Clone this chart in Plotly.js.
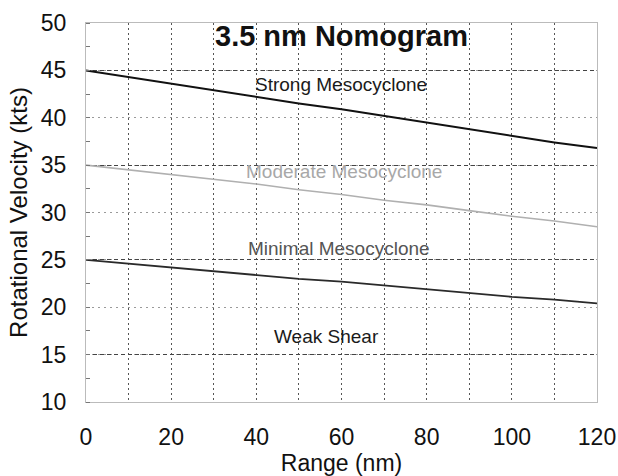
<!DOCTYPE html>
<html><head><meta charset="utf-8">
<script src="https://cdn.plot.ly/plotly-3.0.1.min.js"></script>
<style>html,body{margin:0;padding:0;background:#fff;}#chart{width:618px;height:476px;}</style>
</head><body><div id="chart"></div>
<script>
const rangeNm = [0, 10, 20, 30, 40, 50, 60, 70, 80, 90, 100, 110, 120];
const strong = [45, 44.3, 43.6, 42.9, 42.2, 41.5, 40.9, 40.2, 39.5, 38.8, 38.1, 37.4, 36.8];
const moderate = [35, 34.5, 34.0, 33.5, 33.0, 32.4, 31.9, 31.3, 30.8, 30.2, 29.6, 29.1, 28.5];
const minimal = [25, 24.6, 24.2, 23.8, 23.4, 23.0, 22.7, 22.3, 21.9, 21.5, 21.1, 20.8, 20.4];
const zoneLabels = ["Strong Mesocyclone", "Moderate Mesocyclone", "Minimal Mesocyclone", "Weak Shear"];
const zoneLabelX = [59.8, 60.5, 59.5, 56.5];
const zoneLabelY = [43.55, 34.3, 26.25, 16.9];
const zoneLabelColors = ["#1a1a1a", "#a8a8a8", "#555555", "#1a1a1a"];
const chartTitle = "3.5 nm Nomogram";
const xTicks = [0, 20, 40, 60, 80, 100, 120];
const yTicks = [10, 15, 20, 25, 30, 35, 40, 45, 50];
const yDarkGrid = [15, 25, 35, 45];

const font = "Liberation Sans, Arial, sans-serif";
const traces = [
  {x: rangeNm, y: strong, mode: 'lines', line: {color: '#111111', width: 2}},
  {x: rangeNm, y: moderate, mode: 'lines', line: {color: '#b0b0b0', width: 1.6}},
  {x: rangeNm, y: minimal, mode: 'lines', line: {color: '#2a2a2a', width: 1.8}},
  {x: [], y: [], yaxis: 'y2', mode: 'lines'}
];
const annotations = zoneLabels.map((t, i) => ({
  x: zoneLabelX[i], y: zoneLabelY[i], xref: 'x', yref: 'y', text: t, showarrow: false,
  font: {family: font, size: 19, color: zoneLabelColors[i]}
}));
annotations.push({x: 60, y: 50, xref: 'x', yref: 'y', xanchor: 'center', yanchor: 'top', yshift: 5,
  text: '<b>' + chartTitle + '</b>', showarrow: false,
  font: {family: font, size: 29, color: '#111111'}});
const layout = {
  width: 618, height: 476,
  margin: {l: 86, r: 21, t: 23, b: 74},
  paper_bgcolor: '#ffffff', plot_bgcolor: '#ffffff',
  showlegend: false,
  font: {family: font, color: '#111111'},
  xaxis: {range: [0, 120], tickvals: xTicks, ticktext: xTicks.map(String),
    showgrid: true, gridcolor: '#555555', griddash: '2px,3px', gridwidth: 1,
    minor: {dtick: 10, showgrid: true, gridcolor: '#555555', griddash: '2px,3px', gridwidth: 1},
    zeroline: false, showline: true, linecolor: '#bbbbbb', mirror: true,
    ticks: '', ticklabelstandoff: 14, ticklabeloverflow: 'allow',
    tickfont: {size: 23, family: font, color: '#111'},
    title: {text: 'Range (nm)', font: {size: 23, family: font, color: '#111'}, standoff: 2}},
  yaxis: {range: [10, 50], tickvals: yTicks, ticktext: yTicks.map(String),
    showgrid: true, gridcolor: '#9a9a9a', griddash: '2px,4px', gridwidth: 1,
    zeroline: false, showline: true, linecolor: '#bbbbbb', mirror: true,
    ticks: '', ticklabelstandoff: 14, ticklabeloverflow: 'allow',
    tickfont: {size: 23, family: font, color: '#111'},
    title: {text: 'Rotational Velocity (kts)', font: {size: 24, family: font, color: '#111'}, standoff: 6}},
  yaxis2: {range: [10, 50], overlaying: 'y', side: 'left', tickvals: yDarkGrid, showticklabels: false,
    showgrid: true, gridcolor: '#444444', griddash: '4px,3px', gridwidth: 1, zeroline: false, showline: false,
    ticks: '', minor: {dtick: 2.5, ticks: 'inside', ticklen: 4, tickcolor: '#777', showgrid: false}},
  annotations: annotations
};
Plotly.newPlot('chart', traces, layout, {staticPlot: true, displayModeBar: false});
</script></body></html>
